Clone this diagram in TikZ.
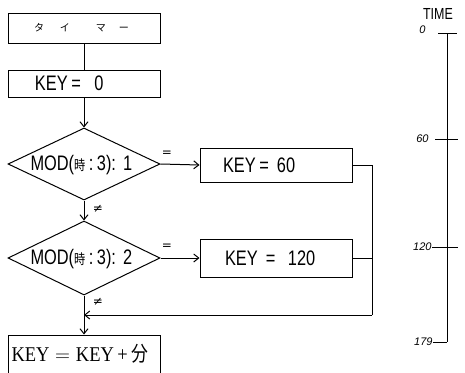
\documentclass[tikz,border=0pt]{standalone}
\usepackage{fontspec}
\setmainfont{Liberation Serif}
\setsansfont{Liberation Sans}
\newfontfamily\condsans[FakeStretch=0.78]{Liberation Sans}
\newfontfamily\condserif[FakeStretch=0.88]{Liberation Serif}
\newfontfamily\jpfont{Noto Sans CJK JP}
\newfontfamily\jpcond[FakeStretch=0.8]{Noto Sans CJK JP}
\newfontfamily\djfont{DejaVu Sans}
\usetikzlibrary{shapes.geometric,arrows.meta}
\newcommand{\inbox}[2]{\makebox[152pt][l]{\hspace{#1pt}#2}}
\begin{document}
\begin{tikzpicture}[x=1pt,y=-1pt,line width=1pt,
  box/.style={draw,rectangle,minimum width=152pt,inner sep=0pt,font=\condsans\fontsize{21}{23}\selectfont},
  dia/.style={draw,diamond,minimum width=152pt,minimum height=74pt,inner sep=0pt},
  dtext/.style={font=\condsans\fontsize{21}{23}\selectfont,anchor=west,inner sep=0pt},
  arr/.style={-{Straight Barb[length=5pt,width=8pt]}},
  lbl/.style={font=\djfont\fontsize{12}{13}\selectfont,inner sep=0pt},
  tlab/.style={font=\sffamily\itshape\fontsize{11}{12}\selectfont,inner sep=0pt,anchor=east}]
\useasboundingbox (0,0) rectangle (465,372);
% flowchart
\node[box,minimum height=30pt] (b1) at (84,28) {\jpfont\fontsize{10}{11}\selectfont\inbox{26}{タ\hspace{16pt}イ\hspace{26pt}マ\hspace{13pt}ー}};
\node[box,minimum height=27pt] (b2) at (84,83.5) {\inbox{27}{KEY\,= \ \ 0}};
\node[dia,minimum height=72pt] (d1) at (84,164) {};
\node[dtext] (d1t) at (30,165) {MOD(\jpcond\fontsize{14}{15}\selectfont 時\condsans\fontsize{21}{23}\selectfont\,:\,3):\,\,1};
\node[dia] (d2) at (84,258) {};
\node[dtext] (d2t) at (30,259) {MOD(\jpcond\fontsize{14}{15}\selectfont 時\condsans\fontsize{21}{23}\selectfont\,:\,3):\,\,2};
\node[box,minimum height=34pt] (k60) at (276,165) {\inbox{23}{KEY\,=\, 60}};
\node[box,minimum height=38pt] (k120) at (276,258) {\inbox{25}{KEY \,=\, \ 120}};
\node[draw,rectangle,minimum width=152pt,minimum height=44pt,inner sep=0pt] (b3) at (84,357) {};
\node[font=\condserif\fontsize{21}{23}\selectfont,anchor=west,inner sep=0pt] (b3t) at (11,354) {KEY${}={}$KEY\,+\,\jpcond 分};
\draw (b1.south) -- (b2.north);
\draw[arr] (b2.south) -- (d1.north);
\draw[arr] (d1.east) -- (k60.west);
\draw[arr] (d1.south) -- (d2.north);
\draw[arr] (d2.east) -- (k120.west);
\coordinate (j) at (372,315);
\coordinate (m) at (d2.south |- j);
\draw[arr] (d2.south) -- (b3.north);
\draw (k60.east) -- (k60.east -| j) -- (j);
\draw (k120.east) -- (k120.east -| j);
\draw[arr] (j) -- (m);
\node[lbl] (e1) at (167,154) {=};
\node[lbl] (e2) at (167,247) {=};
\node[lbl] (n1) at (98,209) {≠};
\node[lbl] (n2) at (98,302) {≠};
% time axis
\node[font=\condsans\fontsize{16}{17}\selectfont,inner sep=0pt] (time) at (438,14) {TIME};
\coordinate (t0) at (447,33);
\coordinate (t60) at (447,139);
\coordinate (t120) at (447,247);
\coordinate (t179) at (447,342);
\draw (t0) -- (t179);
\draw ([xshift=-9pt]t0) -- ([xshift=10pt]t0);
\draw ([xshift=-12pt]t60) -- ([xshift=11pt]t60);
\draw ([xshift=-15pt]t120) -- ([xshift=11pt]t120);
\draw ([xshift=-14pt]t179) -- (t179);
\node[tlab] (l0) at (426,30) {0};
\node[tlab] (l60) at (429,139) {60};
\node[tlab] (l120) at (432,247) {120};
\node[tlab] (l179) at (433,342) {179};
\end{tikzpicture}
\end{document}
